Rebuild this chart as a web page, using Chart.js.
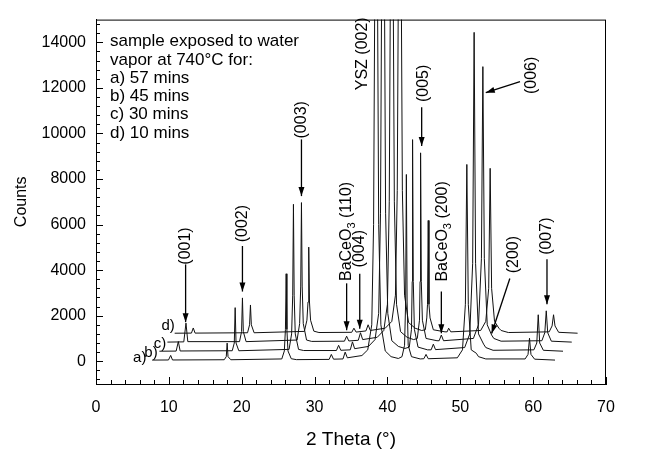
<!DOCTYPE html>
<html>
<head>
<meta charset="utf-8">
<script src="https://cdn.jsdelivr.net/npm/chart.js@4.4.1/dist/chart.umd.min.js"></script>
<style>
  html, body { margin: 0; padding: 0; background: #fff; }
  #wrap { width: 646px; height: 461px; }
</style>
</head>
<body>
<div id="wrap"><canvas id="xrd" width="646" height="461"></canvas></div>
<script>
// Traces: [2 theta, counts], already offset as plotted
const traceA = [
  [7.7, 50],
  [9.95, 55], [10.25, 255], [10.5, 55],
  [17.6, 65], [17.88, 200], [18.0, 795], [18.12, 200], [18.5, 65],
  [25.5, 100], [25.85, 450], [26.0, 1400], [26.1, 3840], [26.2, 1400], [26.35, 450], [26.8, 110],
  [27.5, 70],
  [32.0, 80], [32.3, 300], [32.6, 90],
  [33.9, 100], [34.2, 400], [34.5, 150],
  [36.5, 250], [37.3, 500], [37.85, 1600], [38.1, 6000], [38.25, 15500], [38.45, 90000],
  [38.65, 15500], [38.8, 6000], [39.1, 1600], [39.7, 450], [40.5, 200], [41.5, 120],
  [42.0, 200], [42.35, 700], [42.5, 2600], [42.6, 8200], [42.7, 2600], [42.85, 700], [43.3, 200],
  [44.5, 100], [45.0, 110], [45.3, 300], [45.6, 110],
  [49.6, 150], [50.3, 500], [50.7, 2500], [50.9, 8640], [51.1, 2500], [51.5, 500], [52.2, 350],
  [52.5, 200], [53.5, 100],
  [58.9, 100], [59.3, 300], [59.5, 1010], [59.7, 300], [60.2, 90],
  [63.0, 50]
];
const traceB = [
  [8.7, 440],
  [11.0, 445], [11.3, 864], [11.55, 450],
  [18.7, 460], [18.98, 800], [19.1, 2353], [19.22, 800], [19.6, 460],
  [26.5, 520], [26.85, 1200], [27.0, 2900], [27.1, 6890], [27.2, 2900], [27.35, 1200], [27.8, 520],
  [28.5, 470],
  [33.0, 470], [33.3, 700], [33.6, 480],
  [34.9, 500], [35.2, 850], [35.5, 550],
  [37.4, 650], [38.3, 950], [38.8, 2100], [39.05, 6500], [39.2, 16000], [39.4, 90000],
  [39.6, 16000], [39.75, 6500], [40.05, 2100], [40.6, 900], [41.5, 650], [42.4, 560],
  [43.0, 620], [43.3, 1400], [43.4, 3500], [43.45, 9730], [43.55, 3500], [43.7, 1400], [44.2, 620],
  [45.5, 500], [46.0, 500], [46.3, 750], [46.6, 510],
  [50.6, 600], [51.3, 1200], [51.7, 4300], [51.9, 14440], [52.1, 4300], [52.5, 1200], [53.2, 750],
  [53.5, 600], [54.5, 480],
  [60.1, 500], [60.5, 800], [60.7, 2040], [60.9, 800], [61.4, 480],
  [64.1, 440]
];
const traceC = [
  [9.8, 840],
  [12.05, 850], [12.35, 1673], [12.6, 860],
  [19.7, 860], [19.98, 1300], [20.1, 2780], [20.22, 1300], [20.6, 860],
  [27.6, 930], [27.95, 1650], [28.1, 3300], [28.2, 6965], [28.3, 3300], [28.45, 1650], [28.9, 930],
  [29.6, 870],
  [34.1, 880], [34.4, 1100], [34.7, 890],
  [36.0, 920], [36.3, 1250], [36.6, 950],
  [38.6, 1050], [39.5, 1350], [40.0, 2500], [40.25, 7000], [40.4, 16000], [40.6, 90000],
  [40.8, 16000], [40.95, 7000], [41.25, 2500], [41.8, 1300], [42.7, 1050], [43.6, 950],
  [44.1, 1000], [44.4, 1800], [44.48, 3500], [44.55, 9150], [44.65, 3500], [44.8, 1800], [45.3, 1000],
  [46.8, 900], [47.1, 900], [47.4, 1150], [47.7, 900],
  [51.8, 1000], [52.5, 1600], [52.9, 4500], [53.1, 12935], [53.3, 4500], [53.7, 1600], [54.3, 1150],
  [54.6, 1000], [55.6, 880],
  [61.2, 900], [61.6, 1250], [61.8, 2213], [62.0, 1250], [62.5, 880],
  [65.3, 840]
];
const traceD = [
  [10.8, 1230],
  [13.1, 1235], [13.35, 1460], [13.6, 1235],
  [20.8, 1250], [21.08, 1600], [21.2, 2470], [21.32, 1600], [21.7, 1250],
  [28.6, 1310], [28.95, 1800], [29.1, 2600], [29.2, 5010], [29.3, 2600], [29.45, 1800], [29.9, 1320],
  [30.6, 1260],
  [35.1, 1270], [35.4, 1450], [35.7, 1280],
  [37.05, 1330], [37.35, 1600], [37.65, 1350],
  [39.7, 1450], [40.6, 1750], [41.1, 2900], [41.35, 7500], [41.5, 16500], [41.7, 90000],
  [41.9, 16500], [42.05, 7500], [42.35, 2900], [42.9, 1700], [43.8, 1450], [44.7, 1350],
  [45.2, 1380], [45.4, 1900], [45.5, 2500], [45.6, 6180], [45.7, 2500], [45.85, 1900], [46.3, 1380],
  [47.9, 1290], [48.2, 1290], [48.4, 1450], [48.7, 1290],
  [52.8, 1350], [53.5, 1750], [53.9, 3200], [54.1, 8470], [54.3, 3200], [54.7, 1750], [55.3, 1450],
  [55.6, 1350], [56.6, 1260],
  [62.2, 1290], [62.6, 1550], [62.8, 2040], [63.0, 1550], [63.5, 1270],
  [66.1, 1230]
];

// Axis ticks: labelled majors plus unlabelled minors
const xMajor = [0, 10, 20, 30, 40, 50, 60, 70];
const xMinorStep = 2;
const yMajor = [0, 2000, 4000, 6000, 8000, 10000, 12000, 14000];
const yMinorStep = 400;

// Trace tags next to the start of each curve
const traceNames = ['a)', 'b)', 'c)', 'd)'];
const traceNameX = [6.0, 7.55, 8.8, 9.9];
const traceNameY = [130, 380, 770, 1570];

// Note in the upper left corner
const noteLines = [
  'sample exposed to water',
  'vapor at 740\u00B0C for:',
  'a) 57 mins',
  'b) 45 mins',
  'c) 30 mins',
  'd) 10 mins'
];

// Peak labels (vertical text) and their arrows, in data units
const peakLabels = [
  { text: '(001)', x: 12.3, y: 5060, from: [12.3, 4250], to: [12.3, 1715] },
  { text: '(002)', x: 20.1, y: 6040, from: [20.1, 5060], to: [20.1, 3060] },
  { text: '(003)', x: 28.2, y: 10600, from: [28.2, 9740], to: [28.2, 7250] },
  { text: 'YSZ (002)', x: 36.6, y: 13500 },
  { text: 'BaCeO|3| (110)', x: 34.4, y: 5700, from: [34.4, 3420], to: [34.4, 1360] },
  { text: '(004)', x: 36.2, y: 4940, from: [36.2, 3840], to: [36.2, 1430] },
  { text: '(005)', x: 44.9, y: 12200, from: [44.7, 11150], to: [44.7, 9450] },
  { text: 'BaCeO|3| (200)', x: 47.6, y: 5700, from: [47.4, 3060], to: [47.4, 1230] },
  { text: '(006)', x: 59.8, y: 12550, from: [58.2, 12280], to: [53.5, 11790] },
  { text: '(200)', x: 57.3, y: 4680, from: [56.8, 3630], to: [54.3, 1220] },
  { text: '(007)', x: 61.9, y: 5490, from: [61.9, 4480], to: [61.9, 2500] }
];

const FONT = '"Liberation Sans", Arial, sans-serif';

function toXY(arr) {
  return arr.map(p => ({ x: p[0], y: p[1] }));
}

function stepTicks(min, max, step) {
  const out = [];
  for (let v = min; v <= max; v += step) out.push({ value: v });
  return out;
}

function drawVertical(ctx, text, cx, cy) {
  // pieces between | are subscripts
  const parts = text.split('|');
  const fonts = parts.map((p, i) => (i % 2 ? '11px ' : '16px ') + FONT);
  let total = 0;
  const widths = parts.map((p, i) => {
    ctx.font = fonts[i];
    const w = ctx.measureText(p).width;
    total += w;
    return w;
  });
  ctx.save();
  ctx.translate(cx, cy);
  ctx.rotate(-Math.PI / 2);
  ctx.textAlign = 'left';
  ctx.textBaseline = 'middle';
  let pos = -total / 2;
  parts.forEach((p, i) => {
    ctx.font = fonts[i];
    ctx.fillText(p, pos, i % 2 ? 5 : 0);
    pos += widths[i];
  });
  ctx.restore();
}

function drawArrow(ctx, x1, y1, x2, y2) {
  ctx.beginPath();
  ctx.moveTo(x1, y1);
  ctx.lineTo(x2, y2);
  ctx.stroke();
  const ang = Math.atan2(y2 - y1, x2 - x1);
  const len = 9, half = 3;
  ctx.beginPath();
  ctx.moveTo(x2, y2);
  ctx.lineTo(x2 - len * Math.cos(ang) + half * Math.sin(ang), y2 - len * Math.sin(ang) - half * Math.cos(ang));
  ctx.lineTo(x2 - len * Math.cos(ang) - half * Math.sin(ang), y2 - len * Math.sin(ang) + half * Math.cos(ang));
  ctx.closePath();
  ctx.fill();
}

const decorations = {
  id: 'decorations',
  afterDraw(chart) {
    const { ctx, chartArea: area, scales: { x, y } } = chart;
    ctx.save();
    ctx.strokeStyle = '#000';
    ctx.fillStyle = '#000';

    // frame
    ctx.lineWidth = 1;
    ctx.strokeRect(area.left + 0.5, area.top + 0.5, area.right - area.left - 1, area.bottom - area.top);

    // inward tick marks
    ctx.beginPath();
    x.ticks.forEach(t => {
      const px = Math.round(x.getPixelForValue(t.value)) + 0.5;
      const len = xMajor.includes(t.value) ? 7 : 4;
      ctx.moveTo(px, area.bottom);
      ctx.lineTo(px, area.bottom - len);
    });
    y.ticks.forEach(t => {
      const py = Math.round(y.getPixelForValue(t.value)) + 0.5;
      const len = yMajor.includes(t.value) ? 7 : 4;
      ctx.moveTo(area.left, py);
      ctx.lineTo(area.left + len, py);
    });
    ctx.stroke();

    // axis titles
    ctx.textAlign = 'center';
    ctx.textBaseline = 'middle';
    ctx.font = '19px ' + FONT;
    ctx.fillText('2 Theta (\u00B0)', (area.left + area.right) / 2, 440);
    ctx.save();
    ctx.translate(22, (area.top + area.bottom) / 2);
    ctx.rotate(-Math.PI / 2);
    ctx.font = '16px ' + FONT;
    ctx.fillText('Counts', 0, 0);
    ctx.restore();

    // note
    ctx.textAlign = 'left';
    ctx.font = '17px ' + FONT;
    noteLines.forEach((line, i) => {
      ctx.fillText(line, area.left + 14, area.top + 22 + i * 18.3);
    });

    // trace tags
    ctx.font = '15px ' + FONT;
    ctx.textAlign = 'center';
    traceNames.forEach((name, i) => {
      ctx.fillText(name, x.getPixelForValue(traceNameX[i]), y.getPixelForValue(traceNameY[i]));
    });

    // peak labels and arrows
    ctx.lineWidth = 1.3;
    peakLabels.forEach(l => {
      drawVertical(ctx, l.text, x.getPixelForValue(l.x), y.getPixelForValue(l.y));
      if (l.from) {
        drawArrow(ctx,
          x.getPixelForValue(l.from[0]), y.getPixelForValue(l.from[1]),
          x.getPixelForValue(l.to[0]), y.getPixelForValue(l.to[1]));
      }
    });
    ctx.restore();
  }
};

const traces = [traceA, traceB, traceC, traceD];

new Chart(document.getElementById('xrd'), {
  type: 'scatter',
  data: {
    datasets: traces.map((t, i) => ({
      label: traceNames[i],
      data: toXY(t),
      showLine: true,
      borderColor: '#111',
      borderWidth: 1,
      pointRadius: 0,
      tension: 0
    }))
  },
  options: {
    responsive: false,
    animation: false,
    devicePixelRatio: 1,
    layout: { padding: { left: 0, top: 10, right: 40, bottom: 0 } },
    plugins: {
      legend: { display: false },
      tooltip: { enabled: false }
    },
    scales: {
      x: {
        type: 'linear',
        min: 0,
        max: 70,
        grid: { display: false, drawTicks: false },
        border: { display: true, color: '#000', width: 1 },
        ticks: {
          autoSkip: false,
          maxRotation: 0,
          padding: 14,
          color: '#000',
          font: { family: FONT, size: 16 },
          callback: v => (xMajor.includes(v) ? v : '')
        },
        afterBuildTicks(scale) { scale.ticks = stepTicks(0, 70, xMinorStep); },
        afterFit(scale) { scale.height = 77; }
      },
      y: {
        min: -1000,
        max: 15000,
        grid: { display: false, drawTicks: false },
        border: { display: true, color: '#000', width: 1 },
        ticks: {
          autoSkip: false,
          padding: 10,
          color: '#000',
          font: { family: FONT, size: 16 },
          callback: v => (yMajor.includes(v) ? v : '')
        },
        afterBuildTicks(scale) { scale.ticks = stepTicks(-800, 14800, yMinorStep); },
        afterFit(scale) { scale.width = 96; }
      }
    }
  },
  plugins: [decorations]
});
</script>
</body>
</html>
